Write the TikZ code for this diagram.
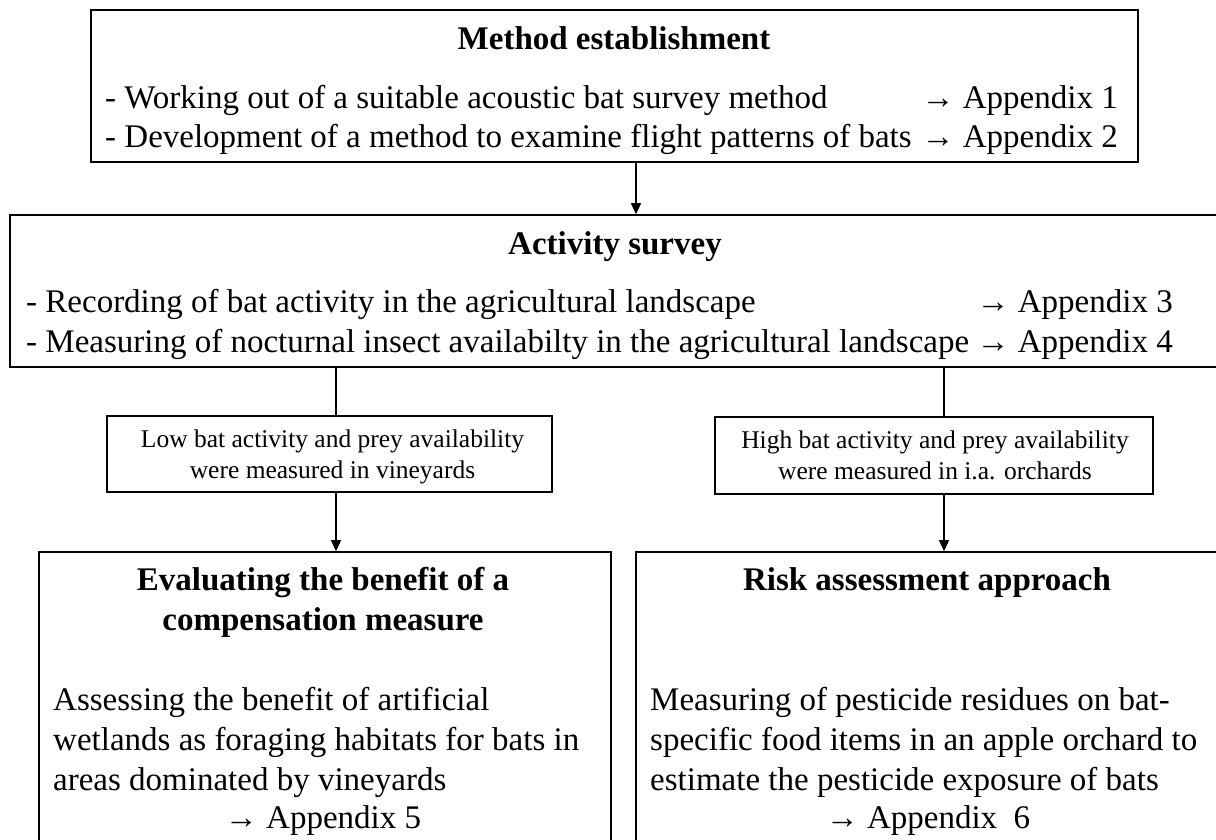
\documentclass[tikz,border=0pt]{standalone}
\usepackage{fontspec}
\setmainfont{Liberation Serif}
\usetikzlibrary{arrows.meta}
\tikzset{
  boxstyle/.style={draw=black, line width=1.6pt, rectangle, inner sep=0pt},
  bigtxt/.style={inner sep=0pt, font=\fontsize{33}{40}\selectfont},
  bigtitle/.style={inner sep=0pt, font=\fontsize{33}{40}\selectfont\bfseries},
  smalltxt/.style={inner sep=0pt, font=\fontsize{25.5}{31}\selectfont},
  conn/.style={draw=black, line width=1.3pt},
  arr/.style={conn, -{Triangle[length=11pt,width=10pt]}}
}
\begin{document}
\begin{tikzpicture}[x=1pt,y=-1pt]
\useasboundingbox (0,0) rectangle (1216,840);
\clip (0,0) rectangle (1216,840);
\fill[white] (0,0) rectangle (1216,840);
% boxes
\node[boxstyle, minimum width=1047pt, minimum height=152pt] (box1) at (614.5,86) {};
\node[boxstyle, minimum width=1240pt, minimum height=152pt] (box2) at (630,291) {};
\node[boxstyle, minimum width=445pt, minimum height=76pt] (box3) at (329.5,454) {};
\node[boxstyle, minimum width=438pt, minimum height=77pt] (box4) at (934,455.5) {};
\node[boxstyle, minimum width=572pt, minimum height=320pt] (box5) at (325,712) {};
\node[boxstyle, minimum width=600pt, minimum height=320pt] (box6) at (936,712) {};
% box 1 text
\node[bigtitle, anchor=base] (t1) at (614,50) {Method establishment};
\node[bigtxt, anchor=base west] (l1a) at (105,109) {- Working out of a suitable acoustic bat survey method};
\node[bigtxt, anchor=base east] (r1a) at (1118,109) {→ Appendix 1};
\node[bigtxt, anchor=base west] (l1b) at (105,148) {- Development of a method to examine flight patterns of bats};
\node[bigtxt, anchor=base east] (r1b) at (1118,148) {→ Appendix 2};
% box 2 text
\node[bigtitle, anchor=base] (t2) at (615,254) {Activity survey};
\node[bigtxt, anchor=base west] (l2a) at (26,312) {- Recording of bat activity in the agricultural landscape};
\node[bigtxt, anchor=base east] (r2a) at (1173,312) {→ Appendix 3};
\node[bigtxt, anchor=base west] (l2b) at (26,352) {- Measuring of nocturnal insect availabilty in the agricultural landscape};
\node[bigtxt, anchor=base east] (r2b) at (1173,352) {→ Appendix 4};
% small boxes text
\node[smalltxt, anchor=base] (s3a) at (332.5,447) {Low bat activity and prey availability};
\node[smalltxt, anchor=base] (s3b) at (332.5,478) {were measured in vineyards};
\node[smalltxt, anchor=base] (s4a) at (935,448) {High bat activity and prey availability};
\node[smalltxt, anchor=base] (s4b) at (935,479) {were measured in i.a. orchards};
% box 5 text
\node[bigtitle, anchor=base] (t5a) at (323,590) {Evaluating the benefit of a};
\node[bigtitle, anchor=base] (t5b) at (323,630) {compensation measure};
\node[bigtxt, anchor=base west] (b5a) at (53,710) {Assessing the benefit of artificial};
\node[bigtxt, anchor=base west] (b5b) at (53,750) {wetlands as foraging habitats for bats in};
\node[bigtxt, anchor=base west] (b5c) at (53,790) {areas dominated by vineyards};
\node[bigtxt, anchor=base] (b5d) at (323,828) {→ Appendix 5};
% box 6 text
\node[bigtitle, anchor=base] (t6) at (927,590) {Risk assessment approach};
\node[bigtxt, anchor=base west] (b6a) at (650,710) {Measuring of pesticide residues on bat-};
\node[bigtxt, anchor=base west] (b6b) at (650,750) {specific food items in an apple orchard to};
\node[bigtxt, anchor=base west] (b6c) at (650,790) {estimate the pesticide exposure of bats};
\node[bigtxt, anchor=base] (b6d) at (928,828) {→ Appendix\ \ 6};
% connector x positions
\coordinate (cx1) at (636,0);
\coordinate (cxl) at (336,0);
\coordinate (cxr) at (944,0);
% connectors
\draw[arr] (box1.south -| cx1) -- (box2.north -| cx1);
\draw[conn] (box2.south -| cxl) -- (box3.north -| cxl);
\draw[conn] (box2.south -| cxr) -- (box4.north -| cxr);
\draw[arr] (box3.south -| cxl) -- (box5.north -| cxl);
\draw[arr] (box4.south -| cxr) -- (box6.north -| cxr);
\end{tikzpicture}
\end{document}
